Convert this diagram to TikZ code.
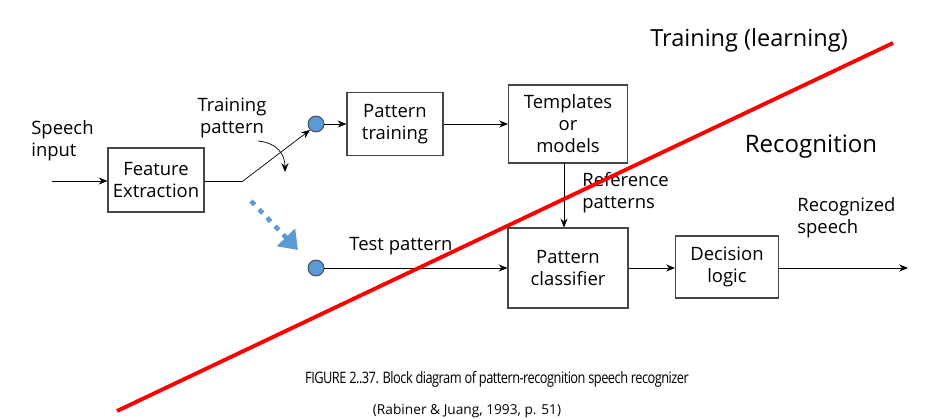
\documentclass[tikz,border=0pt]{standalone}
\usepackage{fontspec}
\setmainfont{Open Sans}
\usetikzlibrary{arrows.meta,positioning,calc}
\definecolor{dotblue}{RGB}{91,155,213}
\definecolor{edgegray}{RGB}{70,70,70}

\tikzset{
  block/.style={draw=edgegray,line width=0.6pt,align=center,inner sep=0pt,
    font=\fontsize{10.5}{12.5}\selectfont},
  lbl/.style={align=left,inner sep=0pt,font=\fontsize{10.5}{12.5}\selectfont},
  sw/.style={circle,draw=edgegray,fill=dotblue,line width=0.5pt,
    minimum size=0.32cm,inner sep=0pt},
}

\begin{document}
\begin{tikzpicture}[x=0.02cm,y=-0.02cm,>={Stealth[length=5pt,width=4pt]}]
    % pixel grid of the reference, y pointing down
    \useasboundingbox (0,0) rectangle (944,419);
    % Blocks
    \node[block,minimum width=1.92cm,minimum height=1.28cm] (fe) at (156,180) {Feature\\Extraction};
    \node[block,minimum width=1.92cm,minimum height=1.26cm] (pt) at (395,124) {Pattern\\training};
    \node[block,minimum width=2.38cm,minimum height=1.56cm] (tm) at (568,124) {Templates\\or\\models};
    \node[block,minimum width=2.40cm,minimum height=1.60cm] (pc) at (568,268) {Pattern\\classifier};
    \node[block,minimum width=2.06cm,minimum height=1.24cm] (dl) at (727,267) {Decision\\logic};
    % Switch contacts
    \node[sw] (swt) at (316,124) {};
    \node[sw] (swr) at (316,268) {};
    \coordinate (in) at (52,181);
    \coordinate (bend) at (243,181);
    \coordinate (out) at (908,268);
    \coordinate (ref) at (564,163);
    % Labels
    \node[lbl,anchor=west] (spin) at (31,141) {Speech\\input};
    \node[lbl,align=center] (trp) at (232,118) {Training\\pattern};
    \node[lbl,align=left,anchor=west] (rfp) at (582,193) {Reference\\patterns};
    \node[lbl] (tsp) at (401,246) {Test pattern};
    \node[lbl,anchor=west] (rsp) at (797,218) {Recognized\\speech};
    % Connectors
    \draw[->] (in) -- (fe.west |- in);
    \draw (fe.east |- bend) -- (bend);
    \draw[->] (bend) -- (swt.south west);
    \draw[->] (swt) -- (pt);
    \draw[->] (pt) -- (tm);
    \draw[->] (ref) -- (ref |- pc.north);
    \draw[->] (swr) -- (pc);
    \draw[->] (pc.east |- 0,268) -- (dl.west |- 0,268);
    \draw[->] (dl.east |- out) -- (out);
    % switch throw
    \draw[->] (258,141) .. controls (278,143) and (285,155) .. (285,172);
    \draw[dotblue,line width=2.6pt,dash pattern=on 3pt off 3.6pt,
      -{Triangle[length=10pt,width=14pt]}] (251,201) -- (298,250);
    % Training / recognition split
    \draw[red,line width=2.2pt] (117,411) -- (893,43);
    \node[font=\fontsize{13.4}{15}\selectfont] (trn) at (749,40) {Training (learning)};
    \node[font=\fontsize{13.7}{15}\selectfont] (rcg) at (811,147) {Recognition};
    % Caption
    \node (cap) at (497,379) {\scalebox{0.81}[1]{\fontsize{9}{10}\selectfont\addfontfeature{LetterSpace=-4}FIGURE 2..37. Block diagram of pattern-recognition speech recognizer}};
    \node[font=\fontsize{7.8}{9}\selectfont] (src) at (467,411) {(Rabiner \& Juang, 1993, p. 51)};
\end{tikzpicture}
\end{document}
